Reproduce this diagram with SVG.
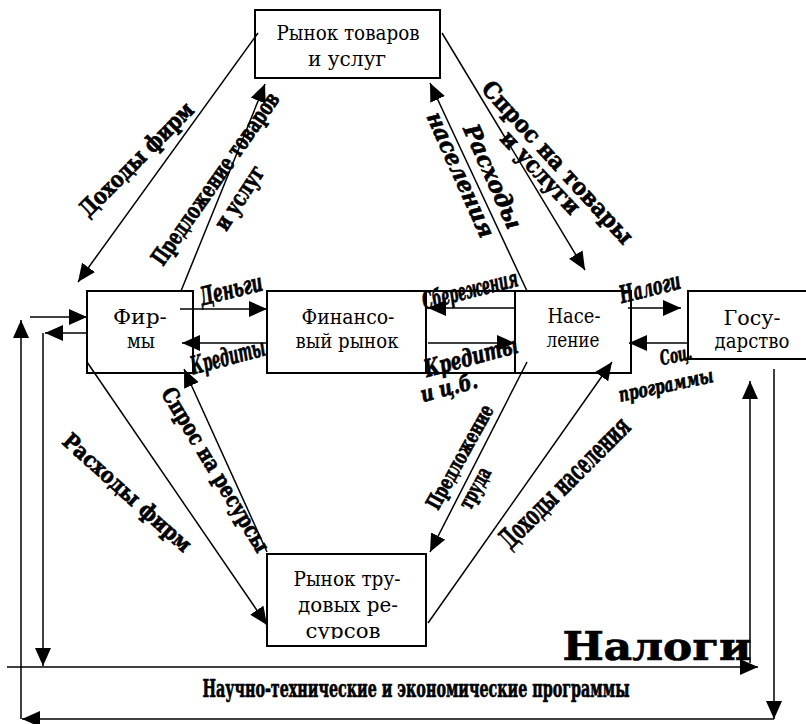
<svg xmlns="http://www.w3.org/2000/svg" width="806" height="724" viewBox="0 0 806 724">
<style>
.bx{fill:#fff;stroke:#000;stroke-width:2}
.ln{stroke:#000;stroke-width:2;fill:none}
.nt{font-family:"DejaVu Serif","Liberation Serif",serif;font-size:20px;text-anchor:middle;fill:#000}
.c path{stroke:#000;stroke-width:1.5;fill:none;marker-end:url(#a)}
.lb text{text-anchor:middle;fill:#000;stroke:#000;stroke-width:0.7;font-weight:bold}
.wa{font-family:"DejaVu Serif Condensed","DejaVu Serif",serif}
.wi{font-family:"DejaVu Serif Condensed","DejaVu Serif",serif;font-style:italic}
.ww{font-family:"DejaVu Serif",serif}
.wwi{font-family:"DejaVu Serif",serif;font-style:italic}
</style>
<defs>
<marker id="a" markerUnits="userSpaceOnUse" markerWidth="18" markerHeight="16" refX="18" refY="8" orient="auto">
<path d="M0,0 L18,8 L0,16 Z" fill="#000"/>
</marker>
<clipPath id="clipTr"><rect x="267" y="554" width="159" height="85"/></clipPath>
</defs>
<rect width="806" height="724" fill="#fff"/>

<g id="rynok-tovarov">
<rect class="bx" x="255" y="10" width="185" height="68"/>
<text class="nt" x="348" y="40" textLength="143" lengthAdjust="spacingAndGlyphs">Рынок товаров</text>
<text class="nt" x="347" y="66" textLength="78" lengthAdjust="spacingAndGlyphs">и услуг</text>
</g>
<g id="firmy">
<rect class="bx" x="87" y="291" width="106" height="82"/>
<text class="nt" x="140" y="324" textLength="54" lengthAdjust="spacingAndGlyphs">Фир-</text>
<text class="nt" x="141" y="348" textLength="28" lengthAdjust="spacingAndGlyphs">мы</text>
</g>
<g id="fin-rynok">
<rect class="bx" x="267" y="291" width="159" height="82"/>
<path class="ln" d="M426,291 H515 M426,373 H515"/>
<text class="nt" x="348" y="324" textLength="93" lengthAdjust="spacingAndGlyphs">Финансо-</text>
<text class="nt" x="347" y="348" textLength="103" lengthAdjust="spacingAndGlyphs">вый рынок</text>
</g>
<g id="naselenie">
<rect class="bx" x="515" y="291" width="116" height="82"/>
<text class="nt" x="574" y="323" textLength="53" lengthAdjust="spacingAndGlyphs">Насе-</text>
<text class="nt" x="573" y="347" textLength="53" lengthAdjust="spacingAndGlyphs">ление</text>
</g>
<g id="gosudarstvo">
<rect class="bx" x="688" y="291" width="126" height="68"/>
<text class="nt" x="752" y="325" textLength="57" lengthAdjust="spacingAndGlyphs">Госу-</text>
<text class="nt" x="752" y="348" textLength="75" lengthAdjust="spacingAndGlyphs">дарство</text>
</g>
<g id="rynok-truda">
<rect class="bx" x="267" y="554" width="159" height="92"/>
<g clip-path="url(#clipTr)">
<text class="nt" x="347" y="586" textLength="107" lengthAdjust="spacingAndGlyphs">Рынок тру-</text>
<text class="nt" x="348" y="612" textLength="100" lengthAdjust="spacingAndGlyphs">довых ре-</text>
<text class="nt" x="343" y="638" textLength="75" lengthAdjust="spacingAndGlyphs">сурсов</text>
</g>
</g>

<g id="connectors" class="c">
<path d="M258,33 L78,282"/>
<path d="M181,291 L265,84"/>
<path d="M442,33 L585,270"/>
<path d="M527,291 L430,83"/>
<path d="M180,309 L267,309"/>
<path d="M267,343 L182,343"/>
<path d="M267,552 L184,369"/>
<path d="M87,362 L267,625"/>
<path d="M527,362 L430,552"/>
<path d="M428,623 L612,362"/>
<path d="M515,308 L428,308"/>
<path d="M428,343 L515,343"/>
<path d="M628,308 L681,308"/>
<path d="M688,343 L629,343"/>
<path d="M30,317 L87,317"/>
<path d="M87,333 L45,333"/>
<path d="M43,333 L43,666"/>
<path d="M7,667 L758,667"/>
<path d="M750,663 L750,381"/>
<path d="M774,369 L774,719"/>
<path d="M774,719 L22,719"/>
<path d="M21,719 L21,320"/>
</g>

<g id="labels" class="lb">
<text class="wa" font-size="23" textLength="151" lengthAdjust="spacingAndGlyphs" transform="translate(137,160) rotate(-45)" y="7">Доходы фирм</text>
<text class="wa" font-size="23" textLength="205" lengthAdjust="spacingAndGlyphs" transform="translate(216,179) rotate(-55)" y="7">Предложение товаров</text>
<text class="wa" font-size="23" textLength="72" lengthAdjust="spacingAndGlyphs" transform="translate(240,198) rotate(-57)" y="7">и услуг</text>
<text class="ww" font-size="23" textLength="212" lengthAdjust="spacingAndGlyphs" transform="translate(557,163) rotate(47.5)" y="7">Спрос на товары</text>
<text class="ww" font-size="23" textLength="105" lengthAdjust="spacingAndGlyphs" transform="translate(540,173) rotate(47)" y="7">и услуги</text>
<text class="wwi" font-size="23" textLength="112" lengthAdjust="spacingAndGlyphs" transform="translate(492,177) rotate(66)" y="7">Расходы</text>
<text class="wwi" font-size="23" textLength="135" lengthAdjust="spacingAndGlyphs" transform="translate(460,175) rotate(66)" y="7">населения</text>
<text class="wi" font-size="25" textLength="64" lengthAdjust="spacingAndGlyphs" transform="translate(231,290) rotate(-14)" y="8">Деньги</text>
<text class="wi" font-size="25" textLength="76" lengthAdjust="spacingAndGlyphs" transform="translate(228,357) rotate(-15)" y="8">Кредиты</text>
<text class="wi" font-size="24" textLength="98" lengthAdjust="spacingAndGlyphs" transform="translate(470,290) rotate(-14)" y="8">Сбережения</text>
<text class="wi" font-size="24" textLength="96" lengthAdjust="spacingAndGlyphs" transform="translate(471,357) rotate(-15)" y="8">Кредиты</text>
<text class="wi" font-size="22" textLength="58" lengthAdjust="spacingAndGlyphs" transform="translate(449,388) rotate(-15)" y="7">и ц.б.</text>
<text class="wi" font-size="24" textLength="62" lengthAdjust="spacingAndGlyphs" transform="translate(650,288) rotate(-14)" y="8">Налоги</text>
<text class="wi" font-size="20" textLength="32" lengthAdjust="spacingAndGlyphs" transform="translate(676,356) rotate(-12)" y="6">Соц.</text>
<text class="wi" font-size="20" textLength="96" lengthAdjust="spacingAndGlyphs" transform="translate(666,386) rotate(-12)" y="6">программы</text>
<text class="ww" font-size="22" textLength="188" lengthAdjust="spacingAndGlyphs" transform="translate(215,470) rotate(59)" y="7">Спрос на ресурсы</text>
<text class="ww" font-size="22" textLength="165" lengthAdjust="spacingAndGlyphs" transform="translate(127,493) rotate(42)" y="7">Расходы фирм</text>
<text class="wa" font-size="21" textLength="116" lengthAdjust="spacingAndGlyphs" transform="translate(460,457) rotate(-61)" y="7">Предложение</text>
<text class="wa" font-size="21" textLength="44" lengthAdjust="spacingAndGlyphs" transform="translate(475,488) rotate(-61)" y="7">труда</text>
<text class="wa" font-size="28" textLength="172" lengthAdjust="spacingAndGlyphs" transform="translate(565,483) rotate(-45)" y="9">Доходы населения</text>
<text class="ww" font-size="40" textLength="189" lengthAdjust="spacingAndGlyphs" x="657" y="660">Налоги</text>
<text class="wa" font-size="25" textLength="427" lengthAdjust="spacingAndGlyphs" x="416" y="697">Научно-технические и экономические программы</text>
</g>
</svg>
